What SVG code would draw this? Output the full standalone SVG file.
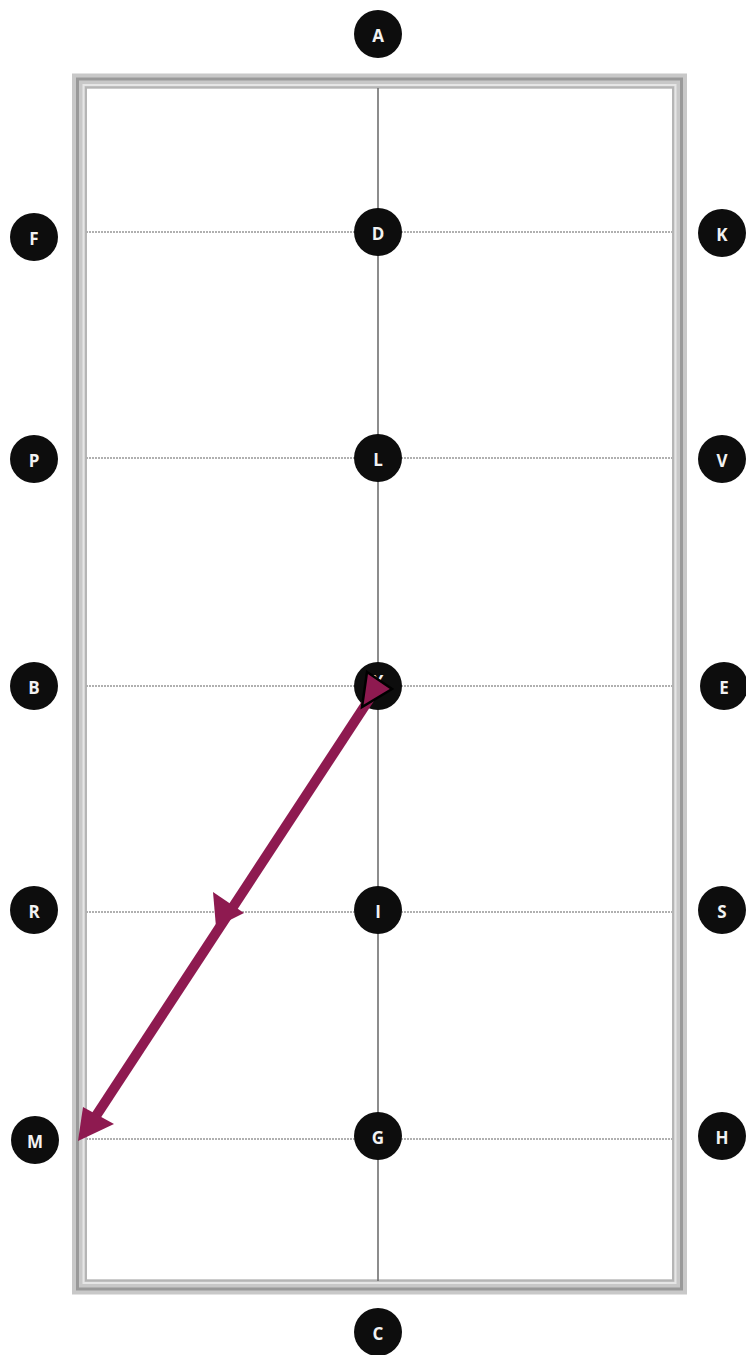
<svg xmlns="http://www.w3.org/2000/svg" width="746" height="1355" viewBox="0 0 746 1355">
<style>
.n circle{fill:#0d0d0d}
.n text{fill:#f2f2f2;font-family:"Open Sans","DejaVu Sans",sans-serif;font-weight:700;font-size:17px;text-anchor:middle;dominant-baseline:central}
.grid{stroke:#b0b0b0;stroke-width:2;stroke-dasharray:2 1;fill:none}
</style>
<rect width="746" height="1355" fill="#fff"/>
<g id="frame" fill="none">
<rect x="79.5" y="81" width="600" height="1206" stroke="#c8c8c8" stroke-width="15"/>
<rect x="77.5" y="79" width="604" height="1210" stroke="#999" stroke-width="3"/>
<rect x="83.5" y="85" width="592" height="1198" stroke="#e6e6e6" stroke-width="2"/>
<rect x="86" y="87.5" width="587" height="1193" stroke="#b5b5b5" stroke-width="2"/>
</g>
<g id="grid">
<line x1="378" y1="88" x2="378" y2="1281" stroke="#707070" stroke-width="1.6"/>
<line class="grid" x1="86" y1="232" x2="672" y2="232"/>
<line class="grid" x1="86" y1="458" x2="672" y2="458"/>
<line class="grid" x1="86" y1="686" x2="672" y2="686"/>
<line class="grid" x1="86" y1="912" x2="672" y2="912"/>
<line class="grid" x1="86" y1="1139" x2="672" y2="1139"/>
</g>
<g id="nodes">
<g id="A" class="n"><circle cx="378" cy="34" r="24"/><text x="378" y="35">A</text></g>
<g id="D" class="n"><circle cx="378" cy="232" r="24"/><text x="378" y="233">D</text></g>
<g id="L" class="n"><circle cx="378" cy="458" r="24"/><text x="378" y="459">L</text></g>
<g id="X" class="n"><circle cx="378" cy="686" r="24"/><text x="378" y="681">X</text></g>
<g id="I" class="n"><circle cx="378" cy="910" r="24"/><text x="378" y="911">I</text></g>
<g id="G" class="n"><circle cx="378" cy="1136" r="24"/><text x="378" y="1137">G</text></g>
<g id="C" class="n"><circle cx="378" cy="1332" r="24"/><text x="378" y="1333">C</text></g>
<g id="F" class="n"><circle cx="34" cy="237" r="24"/><text x="34" y="238">F</text></g>
<g id="P" class="n"><circle cx="34" cy="459" r="24"/><text x="34" y="460">P</text></g>
<g id="B" class="n"><circle cx="34" cy="686" r="24"/><text x="34" y="687">B</text></g>
<g id="R" class="n"><circle cx="34" cy="910" r="24"/><text x="34" y="911">R</text></g>
<g id="M" class="n"><circle cx="35" cy="1140" r="24"/><text x="35" y="1141">M</text></g>
<g id="K" class="n"><circle cx="722" cy="233" r="24"/><text x="722" y="234">K</text></g>
<g id="V" class="n"><circle cx="722" cy="459" r="24"/><text x="722" y="460">V</text></g>
<g id="E" class="n"><circle cx="724" cy="686" r="24"/><text x="724" y="687">E</text></g>
<g id="S" class="n"><circle cx="722" cy="910" r="24"/><text x="722" y="911">S</text></g>
<g id="H" class="n"><circle cx="722" cy="1136" r="24"/><text x="722" y="1137">H</text></g>
</g>
<g id="connectors">
<line x1="370" y1="698" x2="92" y2="1122" stroke="#8e1a50" stroke-width="10"/>
<polygon points="216,927 213,892 244,913" fill="#8e1a50"/>
<polygon points="78,1141 83,1107 114,1124" fill="#8e1a50"/>
<polygon points="367,672 392,689 362,707" fill="#8e1a50" stroke="#000" stroke-width="2.5" stroke-linejoin="miter"/>
</g>
</svg>
